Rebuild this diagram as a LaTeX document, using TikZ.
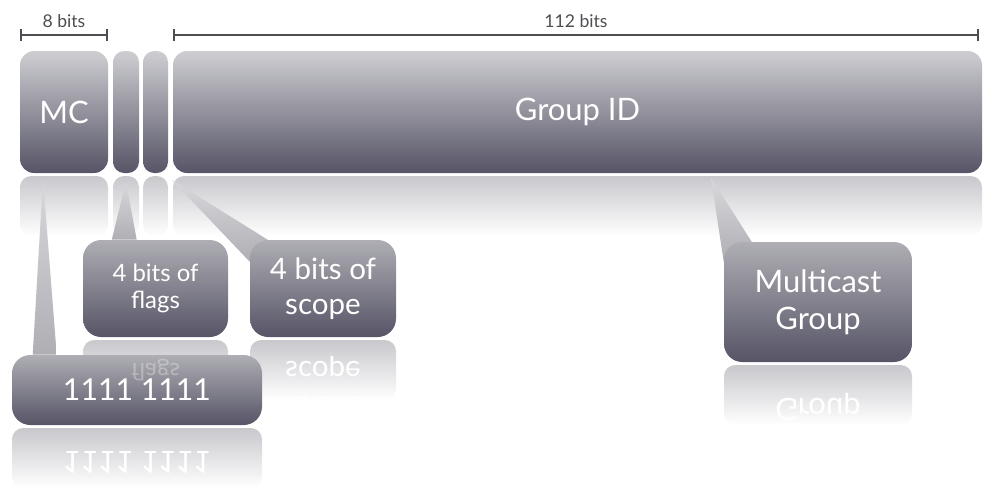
\documentclass[tikz,border=0pt]{standalone}
\usepackage{graphicx}
\usepackage{fontspec}
\setmainfont{Lato}
\usetikzlibrary{arrows.meta}

\newcommand\pxu{0.025cm}
\definecolor{barTop}{RGB}{206,206,210}
\definecolor{barBot}{RGB}{86,84,102}
\definecolor{callTop}{RGB}{174,174,180}
\definecolor{refTop}{RGB}{200,200,205}
\definecolor{tipCol}{RGB}{216,216,220}
\definecolor{rulerCol}{RGB}{78,78,82}

\pgfdeclarelayer{back}
\pgfsetlayers{back,main}

\tikzset{
  wh/.style 2 args={minimum width=#1*\pxu, minimum height=#2*\pxu},
  field/.style={rounded corners=10pt, top color=barTop, bottom color=barBot,
    text=white, inner sep=0pt, font=\fontsize{22}{26}\selectfont},
  bar/.style={field, rounded corners=8pt},
  bubble/.style={rounded corners=13pt, top color=callTop, bottom color=barBot,
    text=white, align=center, inner sep=0pt},
  mirror/.style={rounded corners=8pt, top color=refTop, bottom color=white, inner sep=0pt},
  mirrortext/.style={text=white, inner sep=0pt},
  pointer/.style={top color=tipCol, bottom color=callTop},
  ruler/.style={draw=rulerCol, line width=1.4pt, arrows={Bar[width=8pt]-Bar[width=8pt]}},
  rulertext/.style={text=rulerCol, font=\fontsize{12.5}{14}\selectfont, above=1pt}
}

\begin{document}
\begin{tikzpicture}[x=\pxu, y=-\pxu]
  \useasboundingbox (0,0) rectangle (1007,495);

  % fields of the address
  \node[field, wh={88}{122}] (mc) at (64,112) {MC};
  \node[bar, wh={26}{122}] (flg) at (126,112) {};
  \node[bar, wh={25}{122}] (scp) at (155.5,112) {};
  \node[field, wh={809}{122}] (gid) at (577.5,112) {Group ID};

  \begin{pgfonlayer}{back}
    \foreach \n/\x/\w in {mc/64/88, flg/126/26, scp/155.5/25, gid/577.5/809}
      \node[mirror, wh={\w}{60}] (\n-r) at (\x,206) {};
  \end{pgfonlayer}

  \draw[ruler] (mc.west |- 0,35) -- node[rulertext] {8 bits} (mc.east |- 0,35);
  \draw[ruler] (gid.west |- 0,35) -- node[rulertext] {112 bits} ([xshift=-3*\pxu]gid.east |- 0,35);

  % reflections of the callouts
  \node[mirror, wh={145}{60}] (flagsc-r) at (155.5,370) {};
  \node[mirror, wh={146}{60}] (scopec-r) at (323,370) {};
  \node[mirrortext, font=\fontsize{21}{25}\selectfont] at (323,386)
    {\scalebox{1}[-1]{\begin{tabular}{@{}c@{}}4 bits of\\scope\end{tabular}}};
  \node[mirror, wh={188}{60}] (mcast-r) at (818,395) {};
  \node[mirrortext, font=\fontsize{22}{26}\selectfont] at (818,424)
    {\scalebox{1}[-1]{\begin{tabular}{@{}c@{}}Multicast\\Group\end{tabular}}};

  % callouts
  \node[bubble, wh={145}{97}, font=\fontsize{17}{19}\selectfont] (flagsc) at (155.5,288.5) {4 bits of\\flags};
  \node[bubble, wh={146}{97}, font=\fontsize{21}{25}\selectfont] (scopec) at (323,288.5) {4 bits of\\scope};
  \node[bubble, wh={188}{120}, font=\fontsize{22}{26}\selectfont] (mcast) at (818,302) {Multicast\\Group};

  \node[mirror, wh={250}{60}] (ones-r) at (137,458) {};
  \node[mirrortext, font=\fontsize{21.5}{25}\selectfont] at (137,462)
    {\scalebox{1}[-1]{1111 1111}};
  \node[bubble, wh={250}{70}, font=\fontsize{21.5}{25}\selectfont] (ones) at (137,390) {1111 1111};
  \node[mirrortext, opacity=0.3, font=\fontsize{17}{19}\selectfont] at (155.5,370)
    {\scalebox{1}[-1]{flags}};

  % pointers
  \coordinate (mcTip) at (43,179);
  \coordinate (flgTip) at (126,182);
  \coordinate (scpTip) at (172,180);
  \coordinate (gidTip) at (711,178);
  \begin{pgfonlayer}{back}
    \shade[pointer] (mcTip) -- ([xshift=21*\pxu]ones.north west)
      -- ([xshift=45*\pxu]ones.north west) -- cycle;
    \shade[pointer] (flgTip) -- ([xshift=29*\pxu]flagsc.north west)
      -- ([xshift=54*\pxu]flagsc.north west) -- cycle;
    \shade[pointer] (scpTip) -- ([yshift=-22*\pxu]scopec.north west)
      -- ([xshift=18*\pxu]scopec.north west) -- cycle;
    \shade[pointer] (gidTip) -- ([yshift=-20*\pxu]mcast.north west)
      -- ([xshift=28*\pxu]mcast.north west) -- cycle;
  \end{pgfonlayer}
\end{tikzpicture}
\end{document}
